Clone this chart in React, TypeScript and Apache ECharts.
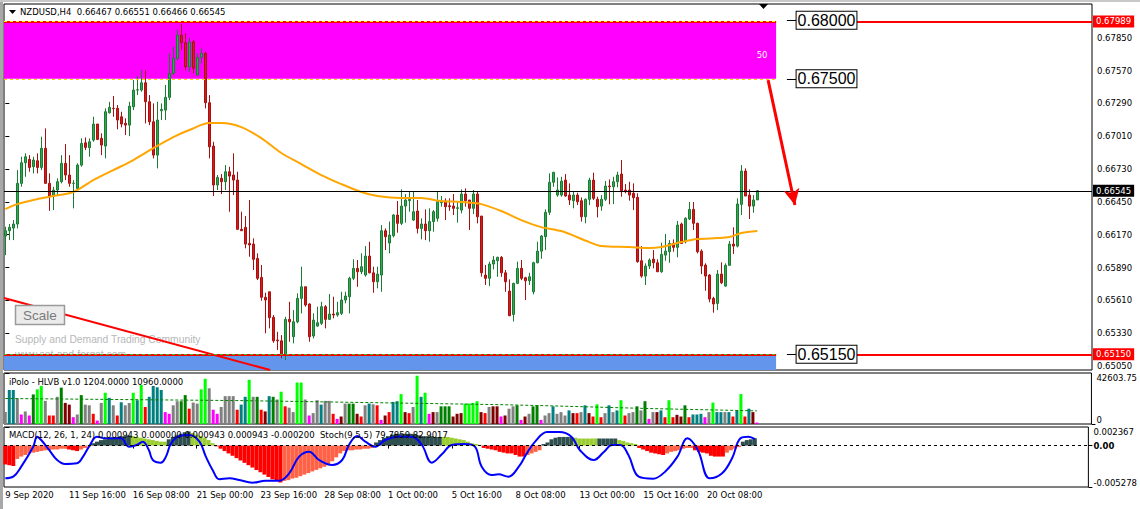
import React, { useEffect, useRef } from "react";
import * as echarts from "echarts";

const chartTitle = "NZDUSD,H4  0.66467 0.66551 0.66466 0.66545";
const volumeTitle = "iPolo - HLVB v1.0 1204.0000 10960.0000";
const macdTitle = "MACD(12, 26, 1, 24) 0.000943 0.000000 0.000943 0.000943 -0.000200  Stoch(9,5,5) 79.7859 82.9017";
const watermark1 = "Supply and Demand Trading Community";
const watermark2 = "www.set-and-forget.com";

const priceTicks = [0.6505, 0.6533, 0.6561, 0.6589, 0.6617, 0.6645, 0.6673, 0.6701, 0.6729, 0.6757, 0.6785];
const timeTickIndex = [0, 16, 32, 48, 64, 80, 96, 112, 128, 144, 160, 176];
const timeTickLabels = ["9 Sep 2020", "11 Sep 16:00", "16 Sep 08:00", "21 Sep 00:00", "23 Sep 16:00", "28 Sep 08:00", "1 Oct 00:00", "5 Oct 16:00", "8 Oct 08:00", "13 Oct 00:00", "15 Oct 16:00", "20 Oct 08:00"];

// [open, close, low, high]
const candles = [
  [0.66159,0.66204,0.65996,0.66238],[0.66204,0.66233,0.66124,0.66261],[0.66227,0.66261,0.66124,0.66295],[0.66261,0.66608,0.66224,0.66721],
  [0.66608,0.66784,0.66579,0.66835],[0.66784,0.66835,0.66664,0.66864],[0.66813,0.66744,0.66707,0.66849],[0.66750,0.66807,0.66693,0.66835],
  [0.66801,0.66744,0.66693,0.66864],[0.66744,0.66907,0.66721,0.67006],[0.66907,0.66608,0.66608,0.67077],[0.66608,0.66500,0.66374,0.66693],
  [0.66500,0.66551,0.66380,0.66579],[0.66551,0.66622,0.66508,0.66651],[0.66622,0.66779,0.66608,0.66849],[0.66779,0.66679,0.66636,0.66943],
  [0.66679,0.66608,0.66579,0.66849],[0.66608,0.66610,0.66395,0.66636],[0.66565,0.66764,0.66551,0.66779],[0.66764,0.66949,0.66750,0.66992],
  [0.66954,0.66915,0.66892,0.67000],[0.66912,0.66963,0.66835,0.66992],[0.66977,0.67114,0.66963,0.67176],[0.67114,0.66983,0.66977,0.67114],
  [0.66992,0.66935,0.66849,0.67035],[0.66926,0.67219,0.66821,0.67248],[0.67210,0.67256,0.67205,0.67304],[0.67248,0.67246,0.67176,0.67353],
  [0.67248,0.67148,0.67069,0.67276],[0.67176,0.67114,0.67086,0.67219],[0.67120,0.67105,0.67020,0.67163],[0.67105,0.67267,0.67011,0.67304],
  [0.67261,0.67404,0.67233,0.67489],[0.67404,0.67406,0.67361,0.67523],[0.67404,0.67466,0.67390,0.67574],[0.67466,0.67304,0.67120,0.67574],
  [0.67304,0.67133,0.67105,0.67361],[0.67133,0.66849,0.66821,0.67290],[0.66849,0.67148,0.66736,0.67304],[0.67227,0.67239,0.67148,0.67290],
  [0.67233,0.67342,0.67148,0.67447],[0.67342,0.67546,0.67319,0.67717],[0.67546,0.67674,0.67532,0.67773],[0.67674,0.67873,0.67660,0.67916],
  [0.67873,0.67807,0.67745,0.67967],[0.67807,0.67603,0.67574,0.67888],[0.67600,0.67813,0.67557,0.67847],[0.67816,0.67589,0.67546,0.67830],
  [0.67532,0.67683,0.67523,0.67717],[0.67683,0.67717,0.67632,0.67760],[0.67717,0.67296,0.67248,0.67731],[0.67296,0.66920,0.66821,0.67361],
  [0.66926,0.66594,0.66500,0.66963],[0.66594,0.66659,0.66551,0.66679],[0.66651,0.66622,0.66517,0.66687],[0.66622,0.66707,0.66551,0.66764],
  [0.66707,0.66670,0.66366,0.66750],[0.66679,0.66636,0.66508,0.66864],[0.66636,0.66216,0.66210,0.66707],[0.66216,0.66204,0.66204,0.66366],
  [0.66233,0.66090,0.66054,0.66329],[0.66096,0.66082,0.65982,0.66466],[0.66090,0.65960,0.65869,0.66139],[0.65968,0.65798,0.65783,0.66011],
  [0.65806,0.65636,0.65607,0.65911],[0.65636,0.65613,0.65329,0.65675],[0.65683,0.65462,0.65371,0.65683],[0.65465,0.65265,0.65248,0.65485],
  [0.65272,0.65265,0.65186,0.65342],[0.65265,0.65144,0.65116,0.65314],[0.65144,0.65448,0.65101,0.65470],[0.65448,0.65427,0.65257,0.65598],
  [0.65300,0.65427,0.65243,0.65527],[0.65427,0.65627,0.65414,0.65670],[0.65627,0.65726,0.65499,0.65897],[0.65726,0.65570,0.65556,0.65726],
  [0.65579,0.65300,0.65257,0.65584],[0.65306,0.65442,0.65286,0.65499],[0.65391,0.65419,0.65385,0.65556],[0.65414,0.65556,0.65400,0.65598],
  [0.65556,0.65448,0.65371,0.65570],[0.65448,0.65493,0.65442,0.65664],[0.65493,0.65485,0.65457,0.65641],[0.65485,0.65505,0.65470,0.65598],
  [0.65499,0.65613,0.65485,0.65683],[0.65613,0.65647,0.65585,0.65683],[0.65641,0.65798,0.65499,0.65812],[0.65798,0.65883,0.65783,0.65960],
  [0.65883,0.65854,0.65726,0.65954],[0.65854,0.65897,0.65834,0.66011],[0.65826,0.65988,0.65812,0.66073],[0.65988,0.65845,0.65840,0.66110],
  [0.65845,0.65769,0.65675,0.65897],[0.65769,0.65834,0.65713,0.65897],[0.65826,0.66204,0.65683,0.66252],[0.66204,0.66153,0.66039,0.66224],
  [0.66099,0.66167,0.66011,0.66282],[0.66161,0.66338,0.66147,0.66346],[0.66338,0.66267,0.66187,0.66457],[0.66267,0.66414,0.66252,0.66557],
  [0.66414,0.66466,0.66273,0.66517],[0.66460,0.66472,0.66366,0.66537],[0.66295,0.66366,0.66289,0.66537],[0.66372,0.66224,0.66181,0.66466],
  [0.66224,0.66261,0.66130,0.66310],[0.66261,0.66204,0.66124,0.66386],[0.66204,0.66282,0.66110,0.66395],[0.66282,0.66366,0.66196,0.66380],
  [0.66310,0.66451,0.66282,0.66537],[0.66443,0.66457,0.66409,0.66500],[0.66457,0.66409,0.66295,0.66480],[0.66417,0.66409,0.66374,0.66480],
  [0.66414,0.66395,0.66338,0.66517],[0.66395,0.66400,0.66273,0.66451],[0.66380,0.66517,0.66352,0.66557],[0.66517,0.66460,0.66409,0.66565],
  [0.66466,0.66395,0.66210,0.66466],[0.66395,0.66517,0.66346,0.66551],[0.66517,0.66323,0.66267,0.66537],[0.66329,0.65845,0.65812,0.66329],
  [0.65826,0.65798,0.65741,0.65911],[0.65798,0.65920,0.65732,0.65940],[0.65920,0.65954,0.65874,0.65988],[0.65948,0.65977,0.65811,0.65982],
  [0.65977,0.65845,0.65811,0.65988],[0.65845,0.65769,0.65683,0.65869],[0.65689,0.65479,0.65476,0.65789],[0.65490,0.65755,0.65430,0.65760],
  [0.65755,0.65883,0.65749,0.65940],[0.65883,0.65798,0.65783,0.65954],[0.65803,0.65777,0.65613,0.65811],[0.65777,0.65811,0.65741,0.65845],
  [0.65683,0.65931,0.65661,0.65940],[0.65931,0.66030,0.65926,0.66110],[0.66030,0.66159,0.65965,0.66167],[0.66153,0.66361,0.66039,0.66386],
  [0.66361,0.66617,0.66338,0.66693],[0.66617,0.66702,0.66579,0.66707],[0.66508,0.66551,0.66494,0.66659],[0.66508,0.66627,0.66494,0.66664],
  [0.66636,0.66500,0.66494,0.66687],[0.66508,0.66466,0.66423,0.66608],[0.66460,0.66508,0.66395,0.66537],[0.66508,0.66451,0.66423,0.66528],
  [0.66460,0.66323,0.66282,0.66488],[0.66323,0.66472,0.66267,0.66480],[0.66472,0.66636,0.66423,0.66656],[0.66636,0.66480,0.66466,0.66699],
  [0.66472,0.66409,0.66318,0.66494],[0.66414,0.66472,0.66374,0.66508],[0.66472,0.66585,0.66457,0.66628],[0.66585,0.66579,0.66429,0.66642],
  [0.66579,0.66622,0.66431,0.66664],[0.66622,0.66679,0.66574,0.66707],[0.66687,0.66545,0.66494,0.66807],[0.66551,0.66537,0.66523,0.66602],
  [0.66551,0.66508,0.66460,0.66622],[0.66523,0.66486,0.66380,0.66608],[0.66489,0.65940,0.65931,0.66523],[0.65948,0.65817,0.65803,0.66073],
  [0.65817,0.65903,0.65741,0.65926],[0.65903,0.65954,0.65877,0.65968],[0.65962,0.65931,0.65883,0.66039],[0.65931,0.65854,0.65852,0.65960],
  [0.65854,0.66002,0.65845,0.66102],[0.65996,0.66030,0.65948,0.66176],[0.66025,0.66096,0.65931,0.66124],[0.66096,0.66062,0.66025,0.66130],
  [0.66062,0.66252,0.65977,0.66287],[0.66261,0.66096,0.66096,0.66273],[0.66110,0.66310,0.66096,0.66318],[0.66304,0.66386,0.66295,0.66449],
  [0.66386,0.66267,0.66210,0.66449],[0.66267,0.66025,0.66011,0.66273],[0.66030,0.65903,0.65834,0.66045],[0.65911,0.65817,0.65692,0.65926],
  [0.65826,0.65621,0.65593,0.65834],[0.65627,0.65579,0.65505,0.65641],[0.65584,0.65834,0.65527,0.65869],[0.65834,0.65760,0.65749,0.65934],
  [0.65732,0.65909,0.65726,0.65926],[0.65909,0.66090,0.65903,0.66116],[0.66090,0.66073,0.66005,0.66233],[0.66073,0.66432,0.66062,0.66480],
  [0.66429,0.66713,0.66338,0.66764],[0.66713,0.66500,0.66500,0.66736],[0.66508,0.66414,0.66304,0.66557],[0.66414,0.66466,0.66357,0.66508],
  [0.66467,0.66545,0.66466,0.66551],
];

// moving average, sampled [bar index, price]
const maPoints = [
  [0,0.66389],[3,0.66431],[7,0.66466],[12,0.66500],[17,0.66534],[22,0.66636],[27,0.66721],[32,0.66807],[37,0.66909],[42,0.67003],
  [46,0.67063],[51,0.67122],[54,0.67122],[59,0.67088],[64,0.66994],[69,0.66867],[74,0.66773],[79,0.66679],[84,0.66602],[89,0.66534],
  [93,0.66500],[99,0.66483],[104,0.66483],[109,0.66457],[114,0.66449],[119,0.66431],[124,0.66372],[129,0.66295],[134,0.66235],[139,0.66201],
  [146,0.66107],[149,0.66073],[156,0.66065],[161,0.66056],[164,0.66065],[169,0.66107],[173,0.66133],[178,0.66141],[181,0.66150],[184,0.66184],[188,0.66201],
];

const volumeValues = [
  9940,28400,28400,21300,7952,10508,7100,24708,28968,31808,
  19312,7100,7100,22720,30388,17608,16188,5680,7952,24140,
  16188,15620,8520,2840,17608,26128,21868,15620,7100,18176,
  15620,17608,26128,19880,32660,14200,22720,31808,30672,28400,
  9940,8520,15620,19028,19028,24140,12780,17892,17040,28968,
  37772,29820,11928,8520,14200,23288,23288,23288,11928,16188,
  22720,36920,22720,22720,11928,10508,23288,22720,20448,26980,
  14768,13632,9940,34648,34648,20448,7100,9088,19880,16188,
  19312,19312,8520,4260,6248,17040,17040,17040,8520,6248,
  15620,17040,16472,15620,3408,7100,9940,18460,19028,24992,
  9940,9088,14200,40328,22720,26128,8520,9940,9940,14768,
  14768,14768,6248,8520,9088,17040,17040,17608,19028,9940,
  9088,14200,14768,14768,6248,7100,12780,14768,15620,3408,
  6248,8520,14768,15620,3408,7100,9088,14768,8520,9940,
  7100,11360,9088,9088,9940,15620,9088,6248,16472,5680,
  9088,15620,9940,11360,19880,7100,9088,9940,14768,11360,
  19028,4260,9940,9940,11360,5680,19880,5680,7668,6248,
  15620,5680,7952,7952,8520,5680,9940,17892,9940,9940,
  9940,9940,6248,11360,24992,6248,12780,9940,1204,
];
// N neutral, T teal, G green, L lime, R red, M maroon, P magenta
const volumeTypes = "NTTNPNPGLL NRRNGMMPNG NNRPNLTNRT NNLTLRTTTT PPNNGGRNNL LNPPNNNNRT TLNGRMTGNL RNNLLNPNNT NNRPMNGGMR NTNRPMRTTL MRNLTLPMNG GGMMMLLLLM RNM MPMNNGPMNG GPNNTNNNTM RNTMRLRNTN TLRNNGNGPN MTRLRMMGRT TTPNLTTNTR TLRTMP".replace(/ /g, "");
const volumeAverage = [[0,21300],[60,19500],[123,16200],[135,15300],[160,13000],[188,10960]];
const volumeMax = 42603.75;

const macdValues = [
  -0.0024,-0.0025,-0.0026,-0.0017,-0.0014,-0.0012,-0.0010,-0.0009,-0.0008,-0.0007,-0.0006,-0.0006,-0.0005,-0.0005,-0.0004,-0.0004,-0.0005,-0.0006,-0.0007,-0.0005,-0.0003,-0.0001,
  0.0003,0.0005,0.0007,0.0008,0.0009,0.0010,0.0011,0.0012,0.0012,0.0013,
  0.0012,0.0011,0.0010,0.0009,0.0008,0.0007,0.0006,0.0005,0.0005,
  0.0008,0.0011,0.0013,0.0015,0.0017,0.0018,
  0.0016,0.0014,0.0012,0.0010,0.0007,0.0003,
  -0.0001,-0.0004,-0.0007,-0.0010,-0.0013,-0.0016,-0.0019,-0.0022,-0.0025,-0.0028,-0.0031,-0.0034,-0.0037,-0.0040,-0.0043,-0.0045,-0.0047,
  -0.0045,-0.0044,-0.0042,-0.0041,-0.0039,-0.0037,-0.0035,-0.0033,-0.0031,-0.0029,-0.0027,-0.0025,-0.0020,-0.0015,-0.0010,-0.0007,-0.0006,-0.0006,-0.0005,-0.0005,-0.0004,-0.0004,-0.0003,
  0.0004,0.0007,0.0010,0.0012,0.0014,0.0015,0.0015,0.0015,0.0015,0.0015,0.0014,0.0013,0.0012,0.0012,0.0012,0.0011,0.0011,
  0.0011,0.0011,0.0010,0.0009,0.0008,0.0007,0.0005,0.0003,0.0002,0.0001,
  -0.0003,-0.0004,-0.0005,-0.0006,-0.0008,-0.0009,-0.0010,-0.0010,-0.0012,-0.0014,-0.0014,
  -0.0012,-0.0010,-0.0008,-0.0006,
  0.0002,0.0004,0.0008,0.0010,0.0011,0.0011,0.0011,0.0011,
  0.0010,0.0009,0.0009,0.0009,0.0009,0.0009,
  0.0009,0.0009,0.0009,0.0009,0.0009,
  0.0007,0.0006,0.0004,0.0003,0.0002,
  -0.0003,-0.0005,-0.0007,-0.0009,-0.0010,-0.0011,-0.0012,
  -0.0010,-0.0008,-0.0007,-0.0006,-0.0004,-0.0003,-0.0003,
  -0.0006,-0.0008,-0.0009,-0.0010,-0.0013,-0.0014,-0.0014,-0.0014,
  -0.0009,-0.0006,-0.0004,-0.0002,
  0.0005,0.0007,0.0008,0.00094,
];
// D up-above, Y down-above, R down-below, T up-below
const macdStates = "RRR TTTTTTTTTTTTT RRR TTT DDDDDDDDDD YYYYYYYYY DDDDDD YYYYYY RRRRRRRRRRRRRRRRR TTTTTTTTTTTTTTTTTTTTTTT DDDDDDDDDDDDDDDDD YYYYYYYYYY RRRRRRRRRRR TTTT DDDDDDDD YYYYYY DDDDD YYYYY RRRRRRR TTTTTTT RRRRRRRR TTTT DDDD".replace(/ /g, "");
const macdRange = [-0.005278, 0.002367];

const stochPoints = [
  [0,14.5],[2,17.2],[4,33.9],[7,67.2],[8,83.9],[9,78.3],[11,61.7],[13,45],[15,38.3],[18,39.4],[19.5,50.6],[21,67.2],[23,83.9],[25,81.1],
  [29,81.1],[31,67.2],[33,70],[34.5,75.6],[36,61.7],[37,45],[39,40.6],[40.3,50.6],[41.6,72.8],[43.7,85],[46.2,86.7],[48.7,75.6],[50.3,50.6],
  [52,28.3],[53.7,12.8],[56.2,14.5],[58.7,11.7],[62,7.2],[65.3,10.6],[68.7,10.6],[71.2,22.8],[73.7,50.6],[76.2,58.9],[78.7,45],[82,36.7],
  [84.5,45],[86.2,70],[88.3,85],[90.3,75.6],[92.8,67.2],[95.3,78.3],[98.7,83.9],[102,83.9],[104.5,70],[107,40.6],[109.5,54.4],[112,70],
  [115.3,71.7],[117.8,67.2],[119.5,33.9],[122,20],[123.7,21.1],[126.2,17.2],[128.8,33.9],[130.8,56.1],[132.9,75.6],[135.9,91.7],[139,91.7],
  [142,83.9],[144.1,61.7],[147.6,45],[150.2,58.9],[152.2,70],[154.3,70],[156.3,53.3],[158.9,17.2],[162.5,13.9],[165.5,25.6],[168.6,50.6],
  [171.1,81.1],[173.7,61.7],[176.7,14.5],[179.8,22.8],[182.3,47.8],[184.4,81.1],[186.4,83.9],[188,79.8],
];

// drawn objects (bar index, price)
const supplyZone = [0.675, 0.67989];
const demandZone = [0.65016, 0.6515];
const zoneEndIndex = 192.7;
const resistanceLevel = 0.67989;
const supportLevel = 0.6515;
const lastPrice = 0.66545;
const rayStartIndex = 212.9;
const levelBoxes = [["0.68000", 0.68], ["0.67500", 0.675], ["0.65150", 0.6515]];
const levelBoxIndex = 197.7;
const leaderStartIndex = 195.4;
const trendLine = [[-0.325, 0.6563], [66.2, 0.65016]];
const arrowLine = [[190.7, 0.67489], [197.4, 0.66423]];
const zoneStrength = ["50", 189.2, 0.67702];

const xMin = -0.325;
const xMax = 271.675;
const priceRange = [0.65016, 0.68138];

const FONT = "DejaVu Sans";
const volumeColors: Record<string, string> = { N: "#808080", T: "#008080", G: "#008000", L: "#00FF00", R: "#FF0000", M: "#800000", P: "#FF00FF" };
const macdColors: Record<string, string> = { D: "#2F4F4F", Y: "#9ACD32", R: "#FF0000", T: "#FF6347" };

function buildOption(): any {
  const small = { fontSize: 8.5, fontFamily: FONT, color: "#000" };
  const xAxes = [0, 1, 2].map((g) => ({
    type: "value",
    gridIndex: g,
    min: xMin,
    max: xMax,
    axisLine: { show: false },
    splitLine: { show: false },
    axisTick: g === 2 ? { show: true, customValues: timeTickIndex, length: 3, lineStyle: { color: "#000" } } : { show: false },
    axisLabel: g === 2
      ? { show: true, customValues: timeTickIndex, formatter: (v: number) => timeTickLabels[timeTickIndex.indexOf(v)] || "", align: "left", margin: 3, ...small }
      : { show: false },
  }));
  const rightAxis = (grid: number, min: number, max: number, values: number[], fmt: (v: number) => string, va: string, extra: any = {}) => ({
    type: "value",
    gridIndex: grid,
    position: "right",
    min,
    max,
    axisLine: { show: false },
    splitLine: { show: false },
    axisTick: { show: true, customValues: values, length: 4, lineStyle: { color: "#000" } },
    axisLabel: { show: true, customValues: values, formatter: fmt, margin: 5, verticalAlign: va, ...small, ...extra },
  });
  const yAxes = [
    rightAxis(0, priceRange[0], priceRange[1], priceTicks, (v) => v.toFixed(5), "middle"),
    rightAxis(1, 0, volumeMax, [volumeMax], (v) => v.toFixed(2), "top"),
    rightAxis(1, 0, volumeMax, [0], () => "0", "bottom"),
    rightAxis(2, macdRange[0], macdRange[1], [macdRange[1]], (v) => v.toFixed(6), "top"),
    rightAxis(2, macdRange[0], macdRange[1], [macdRange[0]], (v) => v.toFixed(6), "bottom"),
    rightAxis(2, macdRange[0], macdRange[1], [0], () => "0.00", "middle", { fontWeight: "bold" }),
    { type: "value", gridIndex: 2, min: 0, max: 100, show: false, splitLine: { show: false } },
  ];

  const axisBox = (text: string, bg: string) => ({
    show: true, position: "end", distance: 1, formatter: text, color: "#fff", backgroundColor: bg,
    padding: [2, 3, 1, 3], fontSize: 8.5, fontFamily: FONT,
  });
  const seg = (x0: number, x1: number, y: number, lineStyle: any, label?: any) => [
    { coord: [x0, y], lineStyle, label: label || { show: false } },
    { coord: [x1, y] },
  ];
  const dashed = (c: string) => ({ color: c, width: 1, type: [3, 3] });

  const markLineData: any[] = [
    seg(xMin, zoneEndIndex, supplyZone[1], { color: "#FF0000", width: 2, type: "solid" }),
    seg(xMin, zoneEndIndex, supplyZone[1], dashed("#FFFF00")),
    seg(xMin, zoneEndIndex, supplyZone[0], dashed("#FFD000")),
    seg(xMin, zoneEndIndex, demandZone[1], { color: "#FF0000", width: 2, type: "solid" }),
    seg(xMin, zoneEndIndex, demandZone[1], dashed("#22CC22")),
    seg(rayStartIndex, xMax, resistanceLevel, { color: "#FF0000", width: 2, type: "solid" }, axisBox(resistanceLevel.toFixed(5), "#FF0000")),
    seg(rayStartIndex, xMax, supportLevel, { color: "#FF0000", width: 2, type: "solid" }, axisBox(supportLevel.toFixed(5), "#FF0000")),
    seg(xMin, xMax, lastPrice, { color: "#000", width: 1, type: "solid" }, axisBox(lastPrice.toFixed(5), "#000")),
    ...levelBoxes.map((b) => seg(leaderStartIndex, levelBoxIndex, b[1] as number, { color: "#000", width: 1, type: "solid" })),
    [
      { coord: arrowLine[0], symbol: "none", lineStyle: { color: "#FF0000", width: 3, type: "solid" }, label: { show: false } },
      { coord: arrowLine[1], symbol: "arrow", symbolSize: [12, 16] },
    ],
  ];

  const markPointData: any[] = [
    ...levelBoxes.map((b) => ({
      coord: [levelBoxIndex, b[1]],
      symbol: "rect",
      symbolSize: 1,
      itemStyle: { color: "rgba(0,0,0,0)" },
      label: {
        show: true, position: "right", distance: 0, formatter: b[0], color: "#000", fontSize: 16,
        fontFamily: "Liberation Sans", backgroundColor: "#fff", borderColor: "#000", borderWidth: 1, padding: [1, 1, 0, 1],
      },
    })),
    {
      coord: [zoneStrength[1], zoneStrength[2]],
      symbol: "rect",
      symbolSize: 1,
      itemStyle: { color: "rgba(0,0,0,0)" },
      label: { show: true, position: "inside", formatter: zoneStrength[0], color: "#fff", fontSize: 8.5, fontFamily: FONT },
    },
  ];

  const series: any[] = [
    {
      type: "candlestick",
      xAxisIndex: 0,
      yAxisIndex: 0,
      barWidth: 3,
      data: candles.map((c, i) => [i, c[0], c[1], c[2], c[3]]),
      itemStyle: { color: "#2EAA4F", color0: "#D41C1C", borderColor: "#1C7A35", borderColor0: "#A81010", borderWidth: 1 },
      markArea: {
        silent: true,
        data: [
          [{ xAxis: xMin, yAxis: supplyZone[1], itemStyle: { color: "#FF00FF", opacity: 1, borderWidth: 0 } }, { xAxis: zoneEndIndex, yAxis: supplyZone[0] }],
          [{ xAxis: xMin, yAxis: demandZone[1], itemStyle: { color: "#6495ED", opacity: 1, borderWidth: 0 } }, { xAxis: zoneEndIndex, yAxis: demandZone[0] }],
        ],
      },
      markLine: { silent: true, symbol: ["none", "none"], label: { show: false }, data: markLineData },
      markPoint: { silent: true, data: markPointData },
    },
    {
      type: "line", xAxisIndex: 0, yAxisIndex: 0, data: maPoints, showSymbol: false, smooth: 0.3,
      lineStyle: { color: "#FFA500", width: 2 }, z: 3,
    },
    {
      type: "line", xAxisIndex: 0, yAxisIndex: 0, data: trendLine, showSymbol: false,
      lineStyle: { color: "#FF0000", width: 2 }, z: 3,
    },
    {
      type: "bar", xAxisIndex: 1, yAxisIndex: 1, barWidth: 3,
      data: volumeValues.map((v, i) => ({ value: [i, v], itemStyle: { color: volumeColors[volumeTypes[i]] || "#808080" } })),
    },
    {
      type: "line", xAxisIndex: 1, yAxisIndex: 1, data: volumeAverage, showSymbol: false,
      lineStyle: { color: "#008000", width: 1, type: [3, 2] }, z: 4,
    },
    {
      type: "bar", xAxisIndex: 2, yAxisIndex: 3, barWidth: 4,
      data: macdValues.map((v, i) => ({ value: [i, v], itemStyle: { color: macdColors[macdStates[i]] || "#FF0000" } })),
      markLine: {
        silent: true, symbol: ["none", "none"], label: { show: false },
        lineStyle: { color: "#000", width: 1, type: [3, 3] },
        data: [[{ coord: [xMin, 0] }, { coord: [xMax, 0] }]],
      },
    },
    {
      type: "line", xAxisIndex: 2, yAxisIndex: 6, data: stochPoints, showSymbol: false, smooth: 0.4,
      lineStyle: { color: "#0000FF", width: 2 }, z: 4,
    },
  ];

  const txt = (x: number, y: number, text: string, extra: any = {}, z = 50) => ({
    type: "text", x, y, z, silent: true,
    style: { text, fontSize: 8.5, fontFamily: FONT, fill: "#000", align: "left", verticalAlign: "middle", ...extra },
  });

  const graphic: any[] = [
    { type: "rect", silent: true, z: 60, shape: { x: 0, y: 0, width: 3, height: 509 }, style: { fill: "#A8A8A8" } },
    { type: "rect", silent: true, z: 60, shape: { x: 0, y: 0, width: 1140, height: 2 }, style: { fill: "#C8C8C8" } },
    { type: "polygon", silent: true, z: 50, shape: { points: [[9, 10], [16, 10], [12.5, 14]] }, style: { fill: "#000" } },
    txt(20, 12, chartTitle),
    { type: "polygon", silent: true, z: 50, shape: { points: [[759, 4], [768, 4], [763.5, 9]] }, style: { fill: "#000" } },
    txt(15, 339, watermark1, { fill: "#B8B8B8", fontSize: 10.3, fontFamily: "Liberation Sans" }, 0),
    txt(15, 354, watermark2, { fill: "#B8B8B8", fontSize: 10.3, fontFamily: "Liberation Sans" }, 0),
    {
      type: "rect", silent: true, z: 100, shape: { x: 15.5, y: 305.5, width: 49, height: 19 },
      style: { fill: "#EBEBEB", stroke: "#9A9A9A", lineWidth: 1.5 },
    },
    { type: "text", silent: true, z: 101, x: 40, y: 315.5, style: { text: "Scale", fontSize: 13.5, fontFamily: "Liberation Sans", fill: "#7A7A7A", align: "center", verticalAlign: "middle" } },
    txt(9, 382, volumeTitle),
    txt(9, 435, macdTitle),
  ];

  return {
    animation: false,
    backgroundColor: "#fff",
    textStyle: { fontFamily: FONT },
    grid: [
      { left: 4, top: 4, width: 1088, height: 366, show: true, borderColor: "#000", borderWidth: 1, backgroundColor: "transparent" },
      { left: 4, top: 373, width: 1088, height: 51, show: true, borderColor: "#000", borderWidth: 1, backgroundColor: "transparent" },
      { left: 4, top: 427, width: 1088, height: 60, show: true, borderColor: "#000", borderWidth: 1, backgroundColor: "transparent" },
    ],
    xAxis: xAxes,
    yAxis: yAxes,
    series,
    graphic,
  };
}

export default function App() {
  const ref = useRef<HTMLDivElement>(null);
  useEffect(() => {
    if (!ref.current) return;
    const chart = echarts.init(ref.current, null, { renderer: "svg" });
    chart.setOption(buildOption());
    return () => chart.dispose();
  }, []);
  return <div ref={ref} style={{ position: "fixed", left: 0, top: 0, width: 1140, height: 509, background: "#fff" }} />;
}
